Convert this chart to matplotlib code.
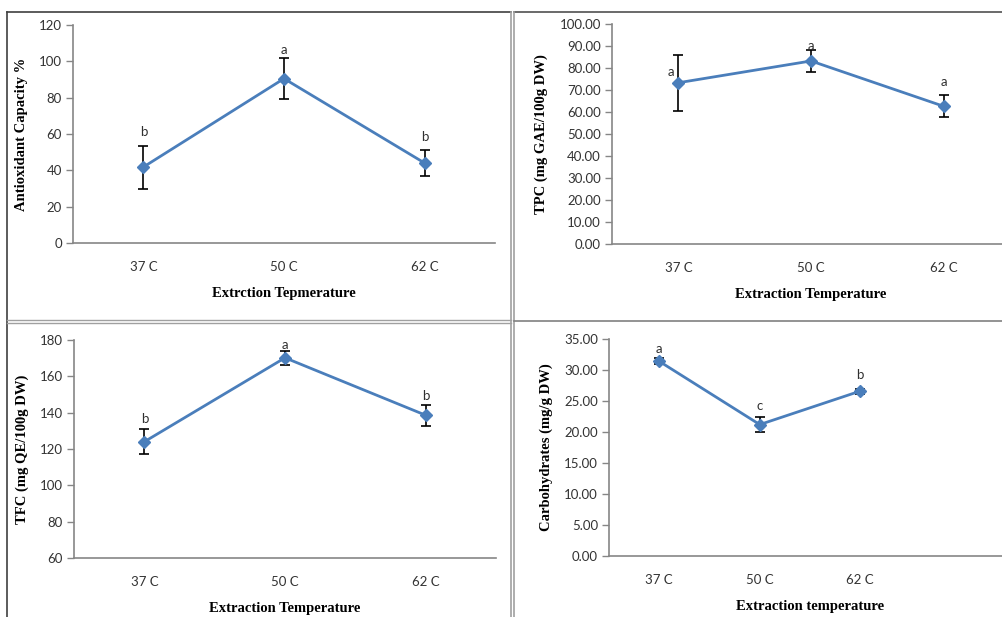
import matplotlib
matplotlib.use("Agg")
import matplotlib.pyplot as plt
from matplotlib.lines import Line2D

# Extraction temperatures
categories = ["37 C", "50 C", "62 C"]

# Antioxidant capacity (%)
antiox_mean = [41.8, 90.5, 44.0]
antiox_err = [11.8, 11.5, 7.3]
antiox_letters = ["b", "a", "b"]

# Total phenolic content (mg GAE/100g DW)
tpc_mean = [73.3, 83.2, 62.6]
tpc_err = [12.8, 5.0, 5.0]
tpc_letters = ["a", "a", "a"]

# Total flavonoid content (mg QE/100g DW)
tfc_mean = [124.0, 170.2, 138.6]
tfc_err = [7.0, 3.7, 5.8]
tfc_letters = ["b", "a", "b"]

# Carbohydrates (mg/g DW)
carb_mean = [31.4, 21.2, 26.6]
carb_err = [0.5, 1.2, 0.4]
carb_letters = ["a", "c", "b"]

W, H = 1003, 617
fig = plt.figure(figsize=(W / 100, H / 100), dpi=100)

LINE_BLUE = "#4a7ebb"
AXIS_GREY = "#868686"
TICK_FONT = dict(family="Lato", size=9.5, color="#333333")
LABEL_FONT = dict(family="Liberation Serif", weight="bold", size=10.5, color="black")


def px_axes(left, right, top, bottom):
    return fig.add_axes([left / W, 1 - bottom / H, (right - left) / W, (bottom - top) / H])


def panel(box, means, errs, letters, ylim, yticks, fmt, xlabel, ylabel,
          letter_off, n_slots=3, ylabel_pad=8, xlabel_pad=10):
    ax = px_axes(*box)
    x = list(range(len(means)))
    ax.errorbar(x, means, yerr=errs, fmt="none", ecolor="black", elinewidth=1.2,
                capsize=3.5, capthick=1.2, zorder=2)
    ax.plot(x, means, color=LINE_BLUE, lw=2.0, marker="D", ms=6.5,
            markerfacecolor=LINE_BLUE, markeredgecolor=LINE_BLUE, zorder=3)
    for xi, yi, lab, (dx, dy) in zip(x, means, letters, letter_off):
        ax.annotate(lab, (xi, yi), xytext=(dx * 0.72, dy * 0.72),
                    textcoords="offset points", ha="center", va="center",
                    fontfamily="Lato", fontsize=9.5, color="#303030")
    ax.set_xlim(-0.5, n_slots - 0.5)
    ax.set_ylim(*ylim)
    ax.set_yticks(yticks)
    ax.set_yticklabels([fmt.format(v) for v in yticks], **TICK_FONT)
    ax.set_xticks(x)
    ax.set_xticklabels(categories, **TICK_FONT)
    ax.tick_params(axis="x", length=0, pad=13)
    ax.tick_params(axis="y", length=5, width=1, color=AXIS_GREY, pad=3)
    for side in ("top", "right"):
        ax.spines[side].set_visible(False)
    for side in ("left", "bottom"):
        ax.spines[side].set_color(AXIS_GREY)
        ax.spines[side].set_linewidth(1.2)
    ax.set_xlabel(xlabel, labelpad=xlabel_pad, **LABEL_FONT)
    ax.set_ylabel(ylabel, labelpad=ylabel_pad, **LABEL_FONT)
    ax.patch.set_alpha(0)
    return ax


panel((73, 495, 25, 243), antiox_mean, antiox_err, antiox_letters,
      (0, 120), list(range(0, 121, 20)), "{:.0f}",
      "Extrction Tepmerature", "Antioxidant Capacity %",
      [(0, 35), (0, 29), (0, 26)])

panel((612, 1010, 24, 244), tpc_mean, tpc_err, tpc_letters,
      (0, 100), list(range(0, 101, 10)), "{:.2f}",
      "Extraction Temperature", "TPC (mg GAE/100g DW)",
      [(-7, 11), (0, 15), (0, 24)])

panel((74, 496, 340, 558), tfc_mean, tfc_err, tfc_letters,
      (60, 180), list(range(60, 181, 20)), "{:.0f}",
      "Extraction Temperature", "TFC (mg QE/100g DW)",
      [(0, 23), (0, 13), (0, 19)])

panel((609, 1011, 339, 556), carb_mean, carb_err, carb_letters,
      (0, 35), [0, 5, 10, 15, 20, 25, 30, 35], "{:.2f}",
      "Extraction temperature", "Carbohydrates (mg/g DW)",
      [(0, 12), (0, 19), (0, 16)], n_slots=4)

# Panel frames
def fig_line(xs, ys, color, lw):
    fig.add_artist(Line2D([v / W for v in xs], [1 - v / H for v in ys],
                          color=color, lw=lw, transform=fig.transFigure))

fig_line([7, 511], [12, 12], "#404040", 1.2)
fig_line([514, 1003], [12, 12], "#505050", 1.2)
fig_line([7, 7], [12, 617], "#404040", 1.2)
fig_line([511, 511], [12, 617], "#a0a0a0", 1.2)
fig_line([514, 514], [12, 617], "#a0a0a0", 1.2)
fig_line([7, 511], [320, 320], "#a0a0a0", 1.0)
fig_line([7, 511], [323, 323], "#a0a0a0", 1.0)
fig_line([514, 1003], [321, 321], "#808080", 1.2)

fig.savefig("out.png", dpi=100)
